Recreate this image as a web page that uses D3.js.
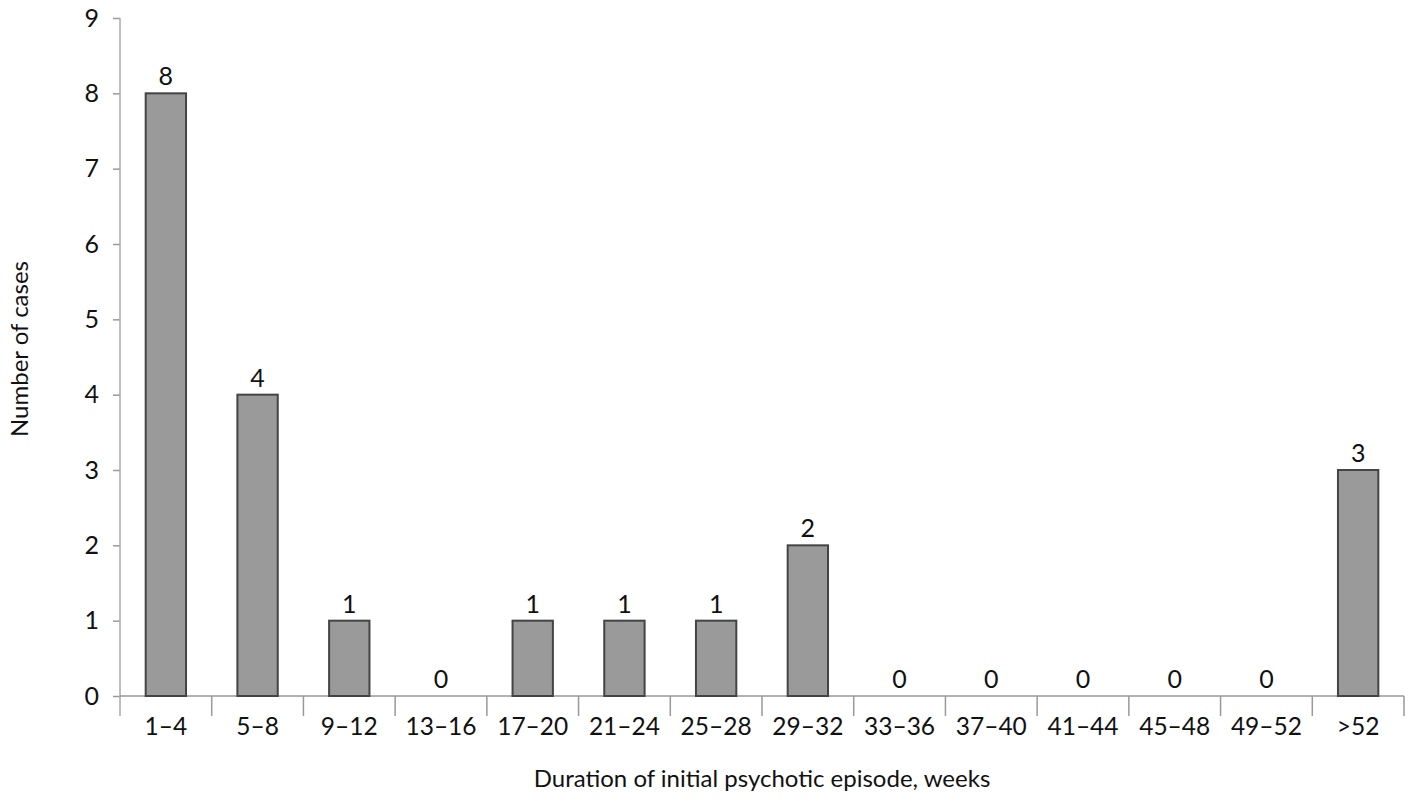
<!DOCTYPE html>
<html>
<head>
<meta charset="utf-8">
<script src="https://cdn.jsdelivr.net/npm/d3@7"></script>
<style>
  body { margin: 0; background: #fff; }
  text { font-family: Lato, "Open Sans", sans-serif; fill: #111; }
</style>
</head>
<body>
<div id="chart-area"></div>
<script>
// data
var categories = ['1\u20134', '5\u20138', '9\u201312', '13\u201316', '17\u201320', '21\u201324', '25\u201328',
                  '29\u201332', '33\u201336', '37\u201340', '41\u201344', '45\u201348', '49\u201352', '>52']
var cases = [8, 4, 1, 0, 1, 1, 1, 2, 0, 0, 0, 0, 0, 3]
var yTicks = [0, 1, 2, 3, 4, 5, 6, 7, 8, 9]

var margin = {left: 120, right: 5, top: 18, bottom: 113}
var W = 1409, H = 809
var width = W - margin.left - margin.right
var height = H - margin.top - margin.bottom

var svg = d3.select('#chart-area').append('svg')
  .attr('width', W)
  .attr('height', H)

var group = svg.append('g')
  .attr('transform', 'translate(' + margin.left + ',' + margin.top + ')')

// scales
var xScale = d3.scaleBand()
  .domain(categories)
  .range([0, 1284])
  .paddingInner(0.56)
  .paddingOuter(0.28)

var yScale = d3.scaleLinear()
  .domain([0, 9])
  .range([height, 0])

// y axis
var yAxis = group.append('g')
  .call(d3.axisLeft(yScale).tickValues(yTicks).tickSize(7).tickPadding(14).tickFormat(d3.format('d')))
yAxis.select('.domain').remove()
yAxis.selectAll('line').attr('stroke', '#999').attr('stroke-width', 1.5)
yAxis.selectAll('text').attr('font-size', '25px').attr('fill', '#111')
group.append('line')
  .attr('x1', 0).attr('x2', 0)
  .attr('y1', 0).attr('y2', height + 20)
  .attr('stroke', '#aaa').attr('stroke-width', 1.5)

// x axis: baseline, separators between categories, labels
var xg = group.append('g').attr('transform', 'translate(0,' + height + ')')
xg.append('line')
  .attr('x1', 0).attr('x2', 1284)
  .attr('stroke', '#999').attr('stroke-width', 1.5)
var step = xScale.step()
xg.selectAll('.sep')
  .data(categories)
  .enter()
  .append('line')
  .attr('class', 'sep')
  .attr('x1', function(d, i){ return (i + 1) * step })
  .attr('x2', function(d, i){ return (i + 1) * step })
  .attr('y1', 0).attr('y2', 20)
  .attr('stroke', '#999').attr('stroke-width', 1.5)
xg.selectAll('.xlab')
  .data(categories)
  .enter()
  .append('text')
  .attr('class', 'xlab')
  .attr('x', function(d){ return xScale(d) + xScale.bandwidth() / 2 })
  .attr('y', 39)
  .attr('text-anchor', 'middle')
  .attr('font-size', '24.5px')
  .text(function(d){ return d })

// bars
group.selectAll('rect.bar')
  .data(cases)
  .enter()
  .append('rect')
  .attr('class', 'bar')
  .attr('x', function(d, i){ return xScale(categories[i]) })
  .attr('y', function(d){ return yScale(d) })
  .attr('width', xScale.bandwidth())
  .attr('height', function(d){ return height - yScale(d) })
  .attr('fill', '#9a9a9a')
  .attr('stroke', '#444')
  .attr('stroke-width', 2)

// value labels
group.selectAll('text.val')
  .data(cases)
  .enter()
  .append('text')
  .attr('class', 'val')
  .attr('x', function(d, i){ return xScale(categories[i]) + xScale.bandwidth() / 2 })
  .attr('y', function(d){ return yScale(d) - 8 })
  .attr('text-anchor', 'middle')
  .attr('font-size', '25px')
  .text(function(d){ return d })

// axis titles
group.append('text')
  .attr('transform', 'rotate(-90)')
  .attr('x', -height / 2 + 8)
  .attr('y', -92)
  .attr('text-anchor', 'middle')
  .attr('font-size', '24px')
  .text('Number of cases')

group.append('text')
  .attr('x', 642)
  .attr('y', height + 91)
  .attr('text-anchor', 'middle')
  .attr('font-size', '24px')
  .text('Duration of initial psychotic episode, weeks')
</script>
</body>
</html>
